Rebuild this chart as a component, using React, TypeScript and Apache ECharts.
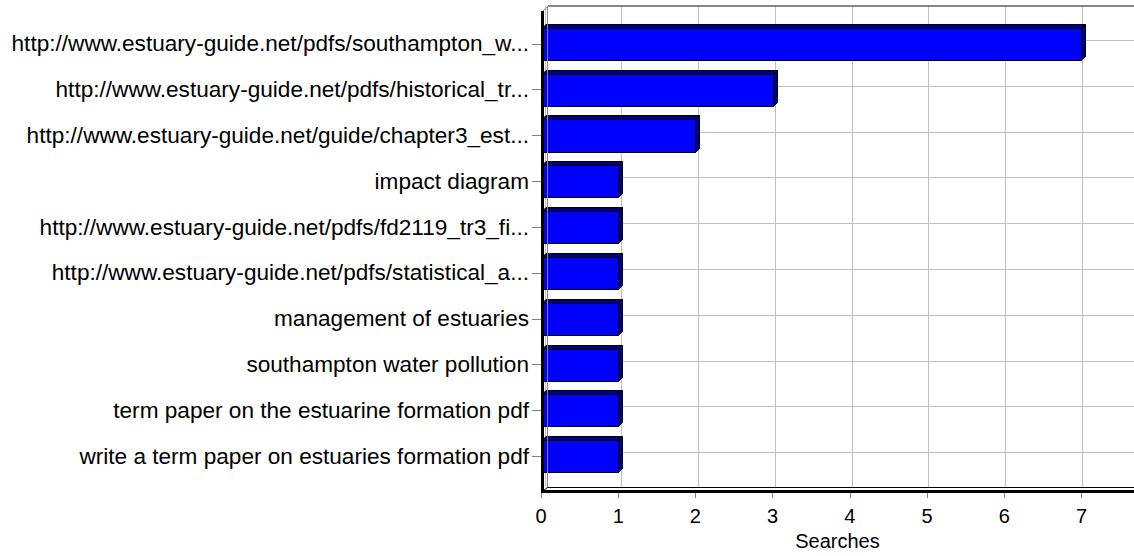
import React, { useEffect, useRef } from "react";
import * as echarts from "echarts";

const categories: string[] = [
  "http://www.estuary-guide.net/pdfs/southampton_w...",
  "http://www.estuary-guide.net/pdfs/historical_tr...",
  "http://www.estuary-guide.net/guide/chapter3_est...",
  "impact diagram",
  "http://www.estuary-guide.net/pdfs/fd2119_tr3_fi...",
  "http://www.estuary-guide.net/pdfs/statistical_a...",
  "management of estuaries",
  "southampton water pollution",
  "term paper on the estuarine formation pdf",
  "write a term paper on estuaries formation pdf",
];
const searches: number[] = [7, 3, 2, 1, 1, 1, 1, 1, 1, 1];
const xMin = 0;
const xMax = 7.68;
const xInterval = 1;
const xTitle = "Searches";

const FONT = "'Liberation Sans', Arial, sans-serif";

export default function App() {
  const ref = useRef<HTMLDivElement>(null);
  useEffect(() => {
    if (!ref.current) return;
    const chart = echarts.init(ref.current, null, { renderer: "svg" });
    const D = 4;
    const option: any = {
      animation: false,
      backgroundColor: "#fff",
      grid: [
        { left: 541, right: 0, top: 21, bottom: 74, containLabel: false },
        { left: 545, right: -4, top: 6, bottom: 69, containLabel: false },
      ],
      xAxis: [
        {
          gridIndex: 0,
          type: "value",
          min: xMin,
          max: xMax,
          interval: xInterval,
          offset: 11,
          axisLine: { show: false },
          axisTick: { show: true, length: 8, lineStyle: { color: "#808080" } },
          axisLabel: {
            showMaxLabel: false,
            color: "#000",
            fontSize: 20,
            fontFamily: FONT,
            margin: 16,
          },
          splitLine: { show: false },
          name: xTitle,
          nameLocation: "middle",
          nameGap: 38,
          nameTextStyle: { color: "#000", fontSize: 20, fontFamily: FONT },
        },
        {
          gridIndex: 1,
          type: "value",
          min: xMin,
          max: xMax,
          interval: xInterval,
          axisLine: { show: false },
          axisTick: { show: false },
          axisLabel: { show: false },
          splitLine: { show: true, lineStyle: { color: "#c0c0c0", width: 1 } },
        },
      ],
      yAxis: [
        {
          gridIndex: 0,
          type: "category",
          data: categories,
          inverse: true,
          axisLine: { show: false },
          axisTick: { show: true, alignWithLabel: true, length: 9, lineStyle: { color: "#808080" } },
          axisLabel: {
            color: "#000",
            fontSize: 22.6,
            fontFamily: FONT,
            margin: 12,
          },
          splitLine: { show: false },
        },
        {
          gridIndex: 1,
          type: "value",
          show: false,
          splitLine: { show: false },
        },
      ],
      series: [
        {
          type: "custom",
          xAxisIndex: 0,
          yAxisIndex: 0,
          clip: false,
          data: searches.map((v, i) => [v, i]),
          renderItem: (params: any, api: any) => {
            const v = api.value(0);
            const idx = api.value(1);
            const p0 = api.coord([0, idx]);
            const p1 = api.coord([v, idx]);
            const band = api.size([0, 1])[1];
            const h = band * 0.7;
            const yTop = Math.round(p0[1] - h / 2) + 0.5;
            const yBot = Math.round(p0[1] + h / 2) + 0.5;
            const x0 = p0[0] + 1;
            const x1 = Math.round(p1[0]) + 0.5;
            const cs = params.coordSys;
            const gy = Math.round(p0[1] - 4) + 0.5;
            return {
              type: "group",
              children: [
                {
                  type: "line",
                  shape: { x1: cs.x + 6, y1: gy, x2: cs.x + cs.width, y2: gy },
                  style: { stroke: "#c0c0c0", lineWidth: 1 },
                },
                {
                  type: "polygon",
                  shape: {
                    points: [
                      [x0, yTop],
                      [x1, yTop],
                      [x1 + D, yTop - D],
                      [x0 + D, yTop - D],
                    ],
                  },
                  style: { fill: "#000080", stroke: "#000", lineWidth: 1 },
                },
                {
                  type: "polygon",
                  shape: {
                    points: [
                      [x1, yTop],
                      [x1 + D, yTop - D],
                      [x1 + D, yBot - D],
                      [x1, yBot],
                    ],
                  },
                  style: { fill: "#000080", stroke: "#000", lineWidth: 1 },
                },
                {
                  type: "rect",
                  shape: { x: x0, y: yTop, width: x1 - x0, height: yBot - yTop },
                  style: { fill: "#0000ff", stroke: "#000", lineWidth: 1 },
                },
              ],
            };
          },
        },
      ],
      graphic: [
        {
          type: "line",
          z: 100,
          shape: { x1: 548, y1: 6, x2: 1134, y2: 6 },
          style: { stroke: "#888", lineWidth: 2 },
        },
        {
          type: "line",
          z: 100,
          shape: { x1: 547.5, y1: 6, x2: 547.5, y2: 487 },
          style: { stroke: "#888", lineWidth: 1 },
        },
        {
          type: "line",
          z: 100,
          shape: { x1: 543, y1: 11, x2: 548, y2: 6 },
          style: { stroke: "#888", lineWidth: 1 },
        },
        {
          type: "line",
          z: 100,
          shape: { x1: 548, y1: 487.5, x2: 1134, y2: 487.5 },
          style: { stroke: "#000", lineWidth: 1 },
        },
        {
          type: "line",
          z: 100,
          shape: { x1: 543, y1: 491, x2: 548, y2: 487 },
          style: { stroke: "#000", lineWidth: 1 },
        },
        {
          type: "line",
          z: 101,
          shape: { x1: 542.5, y1: 11, x2: 542.5, y2: 493 },
          style: { stroke: "#000", lineWidth: 3 },
        },
        {
          type: "line",
          z: 101,
          shape: { x1: 541, y1: 491.5, x2: 1134, y2: 491.5 },
          style: { stroke: "#000", lineWidth: 3 },
        },
      ],
    };
    chart.setOption(option);
    return () => chart.dispose();
  }, []);
  return (
    <div
      ref={ref}
      style={{ position: "fixed", left: 0, top: 0, width: 1134, height: 556 }}
    />
  );
}
